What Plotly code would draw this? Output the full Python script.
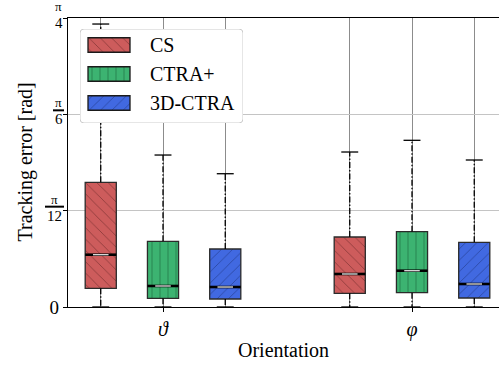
import math
import plotly.graph_objects as go

# Orientation tracking error statistics (rad) per method and angle
angles = ["ϑ", "φ"]
methods = ["CS", "CTRA+", "3D-CTRA"]
q1 = {"CS": [0.0508, 0.0372], "CTRA+": [0.0236, 0.0389], "3D-CTRA": [0.0217, 0.0245]}
median = {"CS": [0.1421, 0.0897], "CTRA+": [0.0571, 0.0986], "3D-CTRA": [0.0543, 0.0625]}
q3 = {"CS": [0.3389, 0.1902], "CTRA+": [0.1785, 0.2046], "3D-CTRA": [0.1576, 0.1758]}
whisker_lo = {"CS": [0.0, 0.0], "CTRA+": [0.0, 0.0], "3D-CTRA": [0.0, 0.0]}
whisker_hi = {"CS": [0.769, 0.4212], "CTRA+": [0.413, 0.453], "3D-CTRA": [0.3622, 0.3995]}

ytick_vals = [0, math.pi / 12, math.pi / 6, math.pi / 4]
ytick_den = [None, "12", "6", "4"]

# styling
colors = {"CS": "#CD5C5C", "CTRA+": "#3CB371", "3D-CTRA": "#4169E1"}
hatch_colors = {"CS": "#7a3030", "CTRA+": "#1d6b40", "3D-CTRA": "#233d8f"}
hatch = {"CS": "\\", "CTRA+": "|", "3D-CTRA": "/"}
offsets = {"CS": -0.25, "CTRA+": 0.0, "3D-CTRA": 0.25}
box_w = 0.125
cap_half = 0.034
FONT = "Liberation Serif, serif"

W, H = 499, 365
ML, MR, MT, MB = 68, 0, 18, 58
PW, PH = W - ML - MR, H - MT - MB


def px_x(px):
    return (px - ML) / PW


def px_y(py):
    return (H - MB - py) / PH


def hatch_pattern(m):
    return dict(shape=hatch[m], fillmode="overlay", fgcolor=hatch_colors[m],
                fgopacity=0.75, size=8, solidity=0.11)


fig = go.Figure()

group_pos = [i + 1 for i in range(len(angles))]

for m in methods:
    xs = [g + offsets[m] for g in group_pos]
    fig.add_trace(go.Bar(
        x=xs, base=q1[m], y=[b - a for a, b in zip(q1[m], q3[m])],
        width=box_w,
        marker=dict(color=colors[m], line=dict(color="#2b2b2b", width=1.3),
                    pattern=hatch_pattern(m)),
        showlegend=False, hoverinfo="skip"))

for m in methods:
    xs = [g + offsets[m] for g in group_pos]
    wx, wy, cx, cy, mx, my, lx, ly = [], [], [], [], [], [], [], []
    for i, x in enumerate(xs):
        wx += [x, x, None, x, x, None]
        wy += [q3[m][i], whisker_hi[m][i], None, q1[m][i], whisker_lo[m][i], None]
        for v in (whisker_hi[m][i], whisker_lo[m][i]):
            cx += [x - cap_half, x + cap_half, None]
            cy += [v, v, None]
        mx += [x - box_w / 2, x + box_w / 2, None]
        my += [median[m][i], median[m][i], None]
        lx += [x - box_w / 4, x + box_w / 4, None]
        ly += [median[m][i], median[m][i], None]
    fig.add_trace(go.Scatter(x=wx, y=wy, mode="lines",
                             line=dict(color="black", width=1.3, dash="6px,2px,1.5px,2px"),
                             showlegend=False, hoverinfo="skip"))
    fig.add_trace(go.Scatter(x=cx, y=cy, mode="lines", line=dict(color="black", width=1.3),
                             showlegend=False, hoverinfo="skip"))
    fig.add_trace(go.Scatter(x=mx, y=my, mode="lines", line=dict(color="black", width=2.6),
                             showlegend=False, hoverinfo="skip"))
    fig.add_trace(go.Scatter(x=lx, y=ly, mode="lines", line=dict(color="#e6e6e6", width=1.3),
                             showlegend=False, hoverinfo="skip"))

# legend drawn in a small inset subplot so patches can carry the hatch
LEG_W, LEG_H = 163, 94
leg_rows = [78, 49, 20]
for m, yr in zip(methods, leg_rows):
    fig.add_trace(go.Bar(
        y=[yr], x=[42], base=[8], width=14.5, orientation="h",
        xaxis="x2", yaxis="y2",
        marker=dict(color=colors[m], line=dict(color="#1a1a1a", width=1.3),
                    pattern=hatch_pattern(m)),
        showlegend=False, hoverinfo="skip"))

r = 4
frame = (f"M{r},0 L{LEG_W - r},0 Q{LEG_W},0 {LEG_W},{r} L{LEG_W},{LEG_H - r} "
         f"Q{LEG_W},{LEG_H} {LEG_W - r},{LEG_H} L{r},{LEG_H} Q0,{LEG_H} 0,{LEG_H - r} "
         f"L0,{r} Q0,0 {r},0 Z")
shapes = [dict(type="path", path=frame, xref="x2", yref="y2", layer="below",
               fillcolor="rgba(255,255,255,0.85)", line=dict(color="#cccccc", width=1))]

annotations = []
for m, yr in zip(methods, leg_rows):
    annotations.append(dict(text=m, x=68, y=yr, xref="x2", yref="y2", xanchor="left",
                            yanchor="middle", showarrow=False,
                            font=dict(family=FONT, size=20, color="black")))

# fractional tick labels on the y axis
for v, den in zip(ytick_vals, ytick_den):
    if den is None:
        continue
    bar_w = 11 if len(den) == 1 else 19
    right = 64
    cxp = right - bar_w / 2
    shapes.append(dict(type="line", xref="paper", yref="y", ysizemode="pixel", yanchor=v,
                       x0=px_x(right - bar_w), x1=px_x(right), y0=4, y1=4,
                       line=dict(color="black", width=2)))
    annotations.append(dict(text="π", x=px_x(cxp), y=v, xref="paper", yref="y",
                            xanchor="center", yanchor="bottom", yshift=3, showarrow=False,
                            borderpad=0, font=dict(family=FONT, size=13, color="black")))
    annotations.append(dict(text=den, x=px_x(cxp), y=v, xref="paper", yref="y",
                            xanchor="center", yanchor="top", yshift=5, showarrow=False,
                            font=dict(family=FONT, size=15, color="black")))

annotations.append(dict(text="Tracking error [rad]", x=px_x(25), y=0.5, xref="paper", yref="paper",
                        textangle=-90, xanchor="center", yanchor="middle", showarrow=False,
                        font=dict(family=FONT, size=20, color="black")))
annotations.append(dict(text="Orientation", x=px_x(283), y=px_y(350), xref="paper", yref="paper",
                        xanchor="center", yanchor="middle", showarrow=False,
                        font=dict(family=FONT, size=20, color="black")))

box_positions = [g + offsets[m] for g in group_pos for m in methods]

fig.update_layout(
    width=W, height=H, margin=dict(l=ML, r=MR, t=MT, b=MB),
    plot_bgcolor="white", paper_bgcolor="white",
    barmode="overlay", showlegend=False,
    font=dict(family=FONT, color="black"),
    xaxis=dict(range=[1 - 95 / 249, 2 + 87 / 249], tickvals=group_pos,
               ticktext=[f"<i>{a}</i>" for a in angles], tickfont=dict(size=20),
               ticks="outside", ticklen=4, tickwidth=1, tickcolor="black",
               showgrid=True, gridcolor="#8c8c8c", gridwidth=1,
               minor=dict(tickvals=box_positions, showgrid=True, gridcolor="#8c8c8c",
                          gridwidth=1, ticks=""),
               showline=True, linecolor="black", linewidth=1.3, mirror=True,
               zeroline=False, fixedrange=True),
    yaxis=dict(range=[0, math.pi / 4], tickvals=ytick_vals,
               ticktext=["0" if d is None else "" for d in ytick_den],
               tickfont=dict(size=19), ticks="outside", ticklen=4, tickwidth=1,
               tickcolor="black", showgrid=True, gridcolor="#c4c4c4", gridwidth=1,
               showline=True, linecolor="black", linewidth=1.3, zeroline=False),
    xaxis2=dict(domain=[px_x(80), px_x(243)], range=[0, LEG_W], anchor="y2",
                visible=False, fixedrange=True),
    yaxis2=dict(domain=[px_y(123), px_y(29)], range=[0, LEG_H], anchor="x2",
                visible=False, fixedrange=True),
    shapes=shapes, annotations=annotations,
)

fig.write_html("out.html")
